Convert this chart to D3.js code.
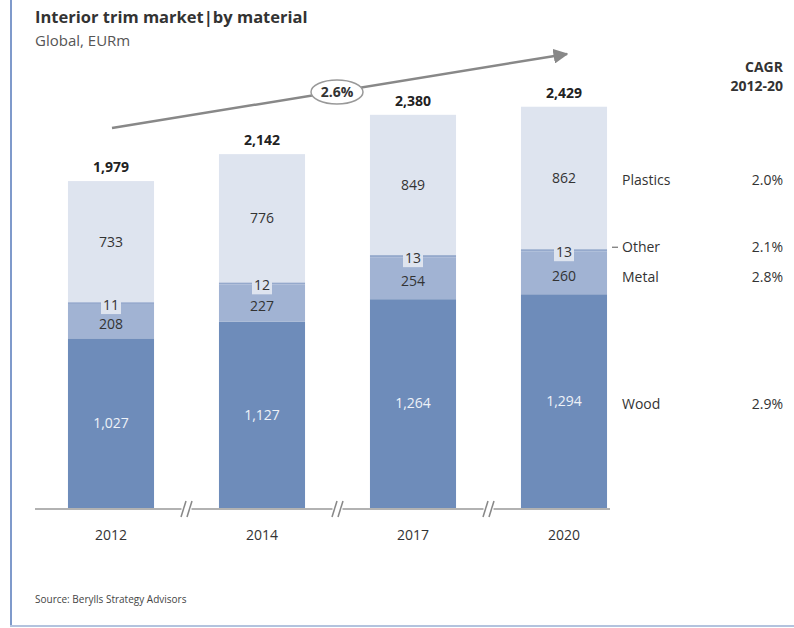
<!DOCTYPE html>
<html>
<head>
<meta charset="utf-8">
<script src="https://cdn.jsdelivr.net/npm/d3@7"></script>
<style>
  body { margin: 0; background: #fff; }
  svg { font-family: "Open Sans", "DejaVu Sans", sans-serif; }
</style>
</head>
<body>
<div id="chart"></div>
<script>
// values
var years = ["2012", "2014", "2017", "2020"];
var wood = [1027, 1127, 1264, 1294];
var metal = [208, 227, 254, 260];
var other = [11, 12, 13, 13];
var plastics = [733, 776, 849, 862];
var totals = [1979, 2142, 2380, 2429];
var materials = ["Wood", "Metal", "Other", "Plastics"];
var cagr = ["2.9%", "2.8%", "2.1%", "2.0%"];
var totalCagr = "2.6%";

var width = 794, height = 628;
var colors = { Wood: "#6e8cba", Metal: "#a1b3d3", Other: "#95a9cc", Plastics: "#dee4ef" };

var svg = d3.select("#chart").append("svg")
    .attr("width", width)
    .attr("height", height);

// frame
svg.append("line").attr("x1", 11).attr("x2", 11).attr("y1", 0).attr("y2", 626)
    .style("stroke", "#7f9acb").style("stroke-width", 2);
svg.append("line").attr("x1", 10).attr("x2", 794).attr("y1", 626).attr("y2", 626)
    .style("stroke", "#b3c3de").style("stroke-width", 2);

// titles
svg.append("text").attr("x", 35).attr("y", 23)
    .style("font-size", "16.5px").style("font-weight", "bold").style("fill", "#333")
    .text("Interior trim market|by material");
svg.append("text").attr("x", 35).attr("y", 46)
    .style("font-size", "15px").style("fill", "#555")
    .text("Global, EURm");

var x = d3.scaleBand()
    .domain(years)
    .range([35.5, 639.5])
    .paddingInner(0.43)
    .paddingOuter(0.215);

var y = d3.scaleLinear()
    .domain([0, 2500])
    .range([508, 95]);

var rows = years.map(function (yr, i) {
    return { year: yr, Wood: wood[i], Metal: metal[i], Other: other[i], Plastics: plastics[i], total: totals[i] };
});

var stack = d3.stack().keys(materials);
var series = stack(rows);

var g = svg.append("g");
series.forEach(function (s) {
    g.selectAll(null)
        .data(s)
        .enter().append("rect")
        .attr("x", function (d) { return x(d.data.year); })
        .attr("width", x.bandwidth())
        .attr("y", function (d) { return y(d[1]); })
        .attr("height", function (d) { return y(d[0]) - y(d[1]); })
        .style("fill", colors[s.key]);
});

// segment labels
series.forEach(function (s) {
    var lab = g.selectAll(null)
        .data(s)
        .enter().append("g")
        .attr("transform", function (d) {
            var cy = (y(d[0]) + y(d[1])) / 2;
            if (s.key === "Other") cy += 2;
            if (s.key === "Metal") cy += 3;
            return "translate(" + (x(d.data.year) + x.bandwidth() / 2) + "," + cy + ")";
        });
    if (s.key === "Other") {
        lab.append("rect")
            .attr("x", -10).attr("y", -9).attr("width", 20).attr("height", 18)
            .style("fill", colors.Plastics);
    }
    lab.append("text")
        .attr("text-anchor", "middle")
        .attr("dy", "0.35em")
        .style("font-size", "14px")
        .style("fill", s.key === "Wood" ? "#eef2f8" : "#333")
        .text(function (d) { return d3.format(",")(d[1] - d[0]); });
});

// totals
g.selectAll(null)
    .data(rows)
    .enter().append("text")
    .attr("x", function (d) { return x(d.year) + x.bandwidth() / 2; })
    .attr("y", function (d) { return y(d.total) - 9; })
    .attr("text-anchor", "middle")
    .style("font-size", "14px").style("font-weight", "bold").style("fill", "#222")
    .text(function (d) { return d3.format(",")(d.total); });

// axis line with breaks
var axisY = y(0) + 1;
svg.append("line").attr("x1", 35).attr("x2", x("2020") + x.bandwidth() + 3)
    .attr("y1", axisY).attr("y2", axisY)
    .style("stroke", "#999").style("stroke-width", 1.5);
years.slice(1).forEach(function (yr, i) {
    var bx = (x(years[i]) + x.bandwidth() + x(yr)) / 2;
    svg.append("rect").attr("x", bx - 5).attr("y", axisY - 4).attr("width", 10).attr("height", 8)
        .style("fill", "#fff");
    [-3, 3].forEach(function (o) {
        svg.append("line")
            .attr("x1", bx + o - 2.5).attr("y1", axisY + 8)
            .attr("x2", bx + o + 2.5).attr("y2", axisY - 8)
            .style("stroke", "#888").style("stroke-width", 1.5);
    });
});
svg.selectAll(null)
    .data(years)
    .enter().append("text")
    .attr("x", function (d) { return x(d) + x.bandwidth() / 2; })
    .attr("y", 540)
    .attr("text-anchor", "middle")
    .style("font-size", "14px").style("fill", "#333")
    .text(function (d) { return d; });

// growth arrow
svg.append("defs").append("marker")
    .attr("id", "arr").attr("viewBox", "0 0 10 10")
    .attr("refX", 9).attr("refY", 5)
    .attr("markerWidth", 6).attr("markerHeight", 6)
    .attr("orient", "auto")
    .append("path").attr("d", "M0,0L10,5L0,10z").style("fill", "#888");
svg.append("line")
    .attr("x1", 112).attr("y1", 128).attr("x2", 567).attr("y2", 54)
    .style("stroke", "#888").style("stroke-width", 2.5)
    .attr("marker-end", "url(#arr)");
svg.append("ellipse").attr("cx", 337).attr("cy", 92).attr("rx", 26).attr("ry", 12)
    .style("fill", "#fff").style("stroke", "#999").style("stroke-width", 1.5);
svg.append("text").attr("x", 337).attr("y", 92).attr("dy", "0.35em")
    .attr("text-anchor", "middle")
    .style("font-size", "14px").style("font-weight", "bold").style("fill", "#333")
    .text(totalCagr);

// legend on the right
var last = series.map(function (s) { return s[s.length - 1]; });
var legendY = {
    Wood: (y(last[0][0]) + y(last[0][1])) / 2 + 3,
    Metal: (y(last[1][0]) + y(last[1][1])) / 2 + 4,
    Other: (y(last[2][0]) + y(last[2][1])) / 2 - 3,
    Plastics: (y(last[3][0]) + y(last[3][1])) / 2 + 2
};
materials.forEach(function (m, i) {
    svg.append("text").attr("x", 622).attr("y", legendY[m]).attr("dy", "0.35em")
        .style("font-size", "14px").style("fill", "#333")
        .text(m);
    svg.append("text").attr("x", 783).attr("y", legendY[m]).attr("dy", "0.35em")
        .attr("text-anchor", "end")
        .style("font-size", "14px").style("fill", "#333")
        .text(cagr[i]);
});
svg.append("line").attr("x1", 612).attr("x2", 618)
    .attr("y1", legendY.Other).attr("y2", legendY.Other)
    .style("stroke", "#555").style("stroke-width", 1);

svg.append("text").attr("x", 783).attr("y", 72).attr("text-anchor", "end")
    .style("font-size", "14px").style("font-weight", "bold").style("fill", "#333")
    .text("CAGR");
svg.append("text").attr("x", 783).attr("y", 91).attr("text-anchor", "end")
    .style("font-size", "14px").style("font-weight", "bold").style("fill", "#333")
    .text("2012-20");

svg.append("text").attr("x", 35).attr("y", 603)
    .style("font-size", "10px").style("fill", "#444")
    .text("Source: Berylls Strategy Advisors");
</script>
</body>
</html>
